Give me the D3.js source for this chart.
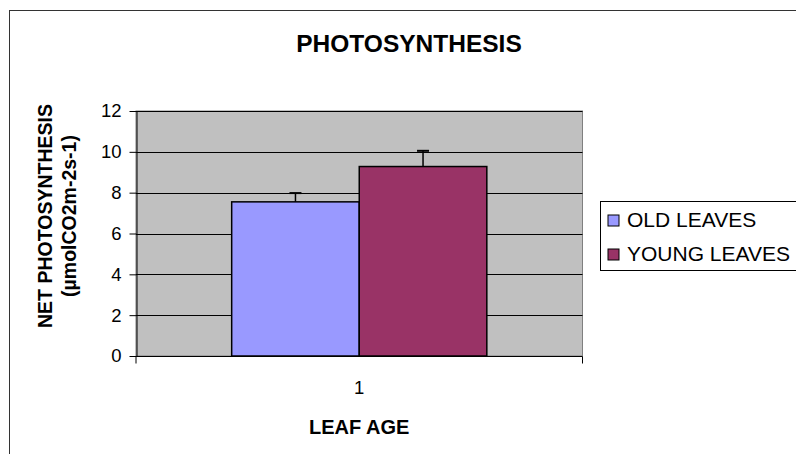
<!DOCTYPE html>
<html lang="en">
<head>
  <meta charset="utf-8">
  <title>Photosynthesis</title>
  <script src="https://d3js.org/d3.v7.min.js"></script>
  <style>
    html, body {
      margin: 0;
      padding: 0;
      background: #fff;
    }
    svg {
      display: block;
      font-family: Arial, "Liberation Sans", sans-serif;
    }
  </style>
</head>
<body>
  <svg width="796" height="454"></svg>
  <script>
    // data
    const categories = ["1"];
    const seriesNames = ["OLD LEAVES", "YOUNG LEAVES"];
    const seriesValues = [7.55, 9.28];
    const seriesErrors = [0.43, 0.77];
    const seriesColors = ["#9999FF", "#993366"];
    const yTicks = [0, 2, 4, 6, 8, 10, 12];

    const svg = d3.select("svg");

    // outer chart border (runs off the right and bottom edges)
    svg.append("rect")
      .attr("x", 9.5).attr("y", 10.5)
      .attr("width", 820).attr("height", 480)
      .attr("fill", "none")
      .attr("stroke", "#333")
      .attr("stroke-width", 1);

    const plot = { left: 136, right: 582.5, top: 111, bottom: 356 };

    const x = d3.scaleBand()
      .domain(categories)
      .range([plot.left, plot.right])
      .paddingInner(0)
      .paddingOuter(0.375);

    const xSub = d3.scaleBand()
      .domain(seriesNames)
      .range([0, x.bandwidth()]);

    const y = d3.scaleLinear()
      .domain([0, 12])
      .range([plot.bottom, plot.top]);

    // grey plot area
    svg.append("rect")
      .attr("x", plot.left).attr("y", plot.top)
      .attr("width", plot.right - plot.left)
      .attr("height", plot.bottom - plot.top)
      .attr("fill", "#C0C0C0")
      .attr("stroke", "#808080")
      .attr("stroke-width", 1);

    // gridlines
    svg.append("g")
      .selectAll("line")
      .data(yTicks.filter(d => d > 0))
      .enter()
      .append("line")
      .attr("x1", plot.left).attr("x2", plot.right)
      .attr("y1", d => Math.round(y(d)) + 0.5)
      .attr("y2", d => Math.round(y(d)) + 0.5)
      .attr("stroke", "#000")
      .attr("stroke-width", 1);

    // y axis
    const yAxis = svg.append("g")
      .attr("transform", `translate(${plot.left + 0.5},0)`)
      .call(d3.axisLeft(y).tickValues(yTicks).tickSize(7).tickPadding(8).tickSizeOuter(0));
    yAxis.select(".domain").attr("stroke", "#000");
    yAxis.selectAll("text")
      .attr("font-size", "18.5px")
      .attr("font-family", "Arial, 'Liberation Sans', sans-serif")
      .attr("fill", "#000");

    // x axis line with ticks at the category edges
    const xAxis = svg.append("g")
      .attr("transform", `translate(0,${plot.bottom + 0.5})`);
    xAxis.append("line")
      .attr("x1", plot.left).attr("x2", plot.right)
      .attr("stroke", "#000");
    xAxis.selectAll("line.edge")
      .data(x.range())
      .enter()
      .append("line")
      .attr("class", "edge")
      .attr("x1", d => d).attr("x2", d => d)
      .attr("y1", 0).attr("y2", 7)
      .attr("stroke", "#000");
    xAxis.selectAll("text")
      .data(categories)
      .enter()
      .append("text")
      .attr("x", d => x(d) + x.bandwidth() / 2)
      .attr("y", 37)
      .attr("text-anchor", "middle")
      .attr("font-size", "18.5px")
      .text(d => d);

    // bars
    const bars = seriesNames.map((name, i) => ({
      name, value: seriesValues[i], err: seriesErrors[i], color: seriesColors[i]
    }));

    const group = svg.append("g")
      .attr("transform", `translate(${x(categories[0])},0)`);

    group.selectAll("rect")
      .data(bars)
      .enter()
      .append("rect")
      .attr("x", d => xSub(d.name))
      .attr("y", d => y(d.value))
      .attr("width", xSub.bandwidth())
      .attr("height", d => y(0) - y(d.value))
      .attr("fill", d => d.color)
      .attr("stroke", "#000")
      .attr("stroke-width", 1.5);

    // plus-only error bars
    const err = group.selectAll("g.err")
      .data(bars)
      .enter()
      .append("g")
      .attr("class", "err");
    err.append("line")
      .attr("x1", d => xSub(d.name) + xSub.bandwidth() / 2)
      .attr("x2", d => xSub(d.name) + xSub.bandwidth() / 2)
      .attr("y1", d => y(d.value))
      .attr("y2", d => y(d.value + d.err))
      .attr("stroke", "#000")
      .attr("stroke-width", 1.5);
    err.append("line")
      .attr("x1", d => xSub(d.name) + xSub.bandwidth() / 2 - 6)
      .attr("x2", d => xSub(d.name) + xSub.bandwidth() / 2 + 6)
      .attr("y1", d => y(d.value + d.err))
      .attr("y2", d => y(d.value + d.err))
      .attr("stroke", "#000")
      .attr("stroke-width", 2);

    // title
    svg.append("text")
      .attr("x", 409)
      .attr("y", 52)
      .attr("text-anchor", "middle")
      .attr("font-size", "24.5px")
      .attr("font-weight", "bold")
      .text("PHOTOSYNTHESIS");

    // x axis title
    svg.append("text")
      .attr("x", (plot.left + plot.right) / 2)
      .attr("y", 434)
      .attr("text-anchor", "middle")
      .attr("font-size", "20px")
      .attr("font-weight", "bold")
      .text("LEAF AGE");

    // y axis title, two lines
    const yTitle = svg.append("text")
      .attr("transform", "translate(52,216) rotate(-90)")
      .attr("text-anchor", "middle")
      .attr("font-size", "19.5px")
      .attr("font-weight", "bold");
    yTitle.append("tspan").attr("x", 0).attr("dy", 0).text("NET PHOTOSYNTHESIS");
    yTitle.append("tspan").attr("x", 0).attr("dy", 24).text("(\u00b5molCO2m-2s-1)");

    // legend
    const legend = svg.append("g");
    legend.append("rect")
      .attr("x", 600.5).attr("y", 201.5)
      .attr("width", 220).attr("height", 69)
      .attr("fill", "#fff")
      .attr("stroke", "#000")
      .attr("stroke-width", 1);
    const item = legend.selectAll("g.item")
      .data(bars)
      .enter()
      .append("g")
      .attr("class", "item")
      .attr("transform", (d, i) => `translate(608,${215 + i * 34})`);
    item.append("rect")
      .attr("width", 11).attr("height", 11)
      .attr("fill", d => d.color)
      .attr("stroke", "#000")
      .attr("stroke-width", 1);
    item.append("text")
      .attr("x", 19)
      .attr("y", 11.5)
      .attr("font-size", "21px")
      .text(d => d.name);
  </script>
</body>
</html>
